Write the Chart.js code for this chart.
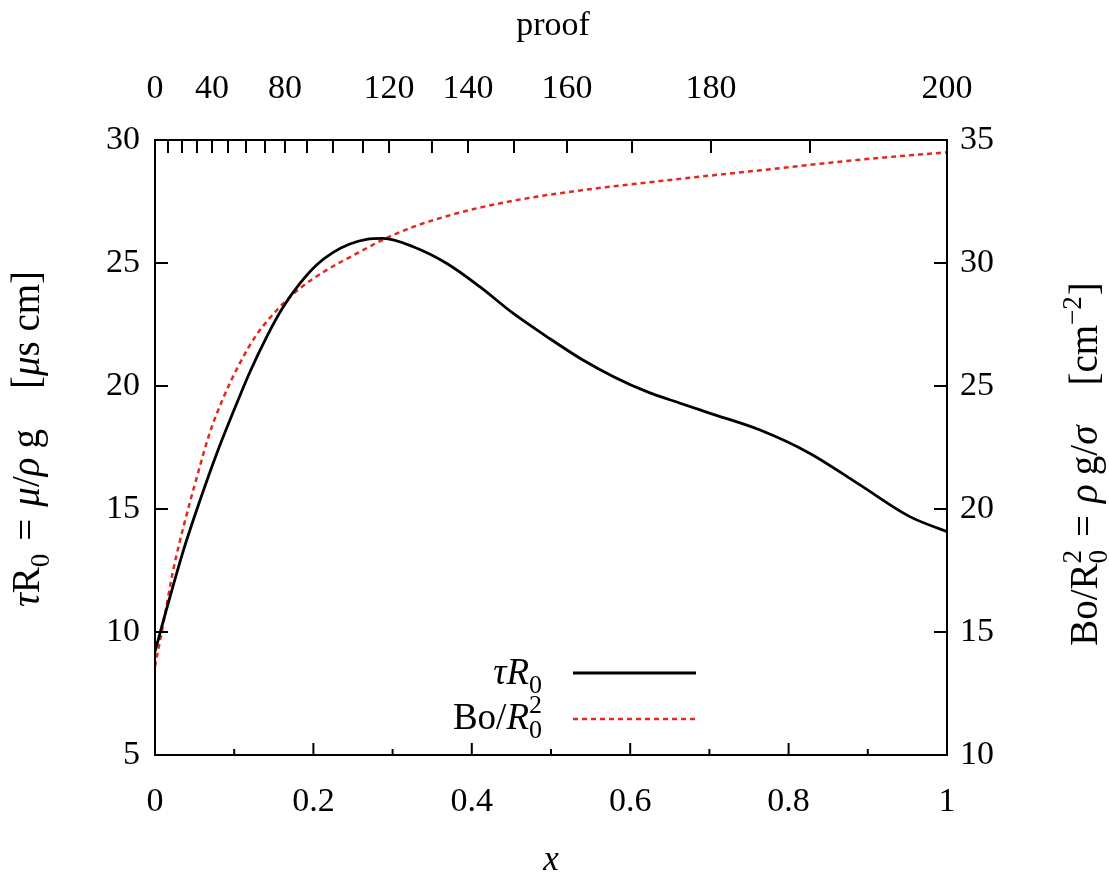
<!DOCTYPE html>
<html>
<head>
<meta charset="utf-8">
<script src="https://cdn.jsdelivr.net/npm/chart.js@4.4.1/dist/chart.umd.min.js"></script>
<style>
  html, body { margin: 0; padding: 0; background: #fff; }
  canvas { display: block; }
</style>
</head>
<body>
<canvas id="chart" width="1109" height="888"></canvas>
<script>
// tau*R0 curve (left axis)
const xTau = [0, 0.0105, 0.036, 0.057, 0.078, 0.099, 0.12, 0.141, 0.162, 0.183, 0.204, 0.225, 0.246, 0.267, 0.288,
  0.326, 0.368, 0.41, 0.452, 0.495, 0.537, 0.579, 0.621, 0.663, 0.701, 0.764, 0.827, 0.89, 0.953, 1.0];
const tauR0 = [9.2, 10.45, 13.33, 15.37, 17.26, 18.96, 20.58, 22.0, 23.22, 24.17, 24.92, 25.43, 25.77, 25.96, 26.0,
  25.66, 24.99, 24.04, 22.96, 22.0, 21.12, 20.38, 19.77, 19.3, 18.89, 18.21, 17.26, 15.98, 14.69, 14.08];

// Bo/R0^2 curve (right axis)
const xBo = [0, 0.0105, 0.023, 0.036, 0.053, 0.069, 0.086, 0.107, 0.128, 0.154, 0.183, 0.217, 0.255,
  0.288, 0.326, 0.368, 0.41, 0.452, 0.495, 0.537, 0.579, 0.621, 0.663, 0.70, 0.765, 0.83, 0.89, 0.95, 1.0];
const boR0 = [13.6, 15.35, 17.52, 19.28, 21.31, 23.08, 24.5, 25.92, 27.07, 28.09, 28.97, 29.72, 30.39,
  30.95, 31.47, 31.9, 32.25, 32.53, 32.76, 32.95, 33.12, 33.27, 33.42, 33.55, 33.77, 34.0, 34.2, 34.37, 34.5];

// top axis: proof values and where they sit on x
const proofTicks = [0, 10, 20, 30, 40, 50, 60, 70, 80, 90, 100, 110, 120, 130, 140, 150, 160, 170, 180, 190, 200];
const proofPos = [0, 0.0164, 0.0341, 0.053, 0.072, 0.0922, 0.1149, 0.1389, 0.1641, 0.1919, 0.2247,
  0.2626, 0.2955, 0.3497, 0.3952, 0.4533, 0.5202, 0.6023, 0.702, 0.827, 1.0];
const proofLabels = [0, 40, 80, 120, 140, 160, 180, 200];

const FONT = '"Liberation Serif", "DejaVu Serif", serif';
const FS = 34;   // tick labels
const TS = 37;   // legend
const YS = 39;   // rotated axis titles

function segFont(s, size) {
  return (s.i ? 'italic ' : '') + size + 'px ' + FONT;
}

function segWidth(ctx, s, size) {
  if (s.sp !== undefined) return s.sp;
  if (s.t !== undefined) { ctx.font = segFont(s, size); return ctx.measureText(s.t).width; }
  const small = Math.round(size * 0.7);
  ctx.font = small + 'px ' + FONT;
  const a = s.sub ? ctx.measureText(s.sub).width : 0;
  const b = s.sup ? ctx.measureText(s.sup).width : 0;
  return Math.max(a, b) + 1;
}

// draws text made of plain / italic / sub / sup parts
function drawRich(ctx, segs, x, y, size, align) {
  const total = segs.reduce((w, s) => w + segWidth(ctx, s, size), 0);
  let cx = align === 'center' ? x - total / 2 : align === 'right' ? x - total : x;
  ctx.textAlign = 'left';
  ctx.textBaseline = 'alphabetic';
  segs.forEach(s => {
    const w = segWidth(ctx, s, size);
    if (s.t !== undefined) {
      ctx.font = segFont(s, size);
      ctx.fillText(s.t, cx, y);
    } else if (s.sp === undefined) {
      ctx.font = Math.round(size * 0.7) + 'px ' + FONT;
      if (s.sub) ctx.fillText(s.sub, cx, y + size * 0.25);
      if (s.sup) ctx.fillText(s.sup, cx, y - size * 0.42);
    }
    cx += w;
  });
}

const leftTitle = [{t: 'τ', i: 1}, {t: 'R'}, {sub: '0'}, {sp: 12}, {t: '='}, {sp: 12}, {t: 'μ', i: 1}, {t: '/'},
  {t: 'ρ', i: 1}, {sp: 9}, {t: 'g'}, {sp: 40}, {t: '['}, {t: 'μ', i: 1}, {t: 's cm]'}];
const rightTitle = [{t: 'Bo/R'}, {sub: '0', sup: '2'}, {sp: 12}, {t: '='}, {sp: 12}, {t: 'ρ', i: 1}, {sp: 9},
  {t: 'g/'}, {t: 'σ', i: 1}, {sp: 40}, {t: '[cm'}, {sup: '−2'}, {t: ']'}];
const legendTau = [{t: 'τ', i: 1}, {t: 'R', i: 1}, {sub: '0'}];
const legendBo = [{t: 'Bo/'}, {t: 'R', i: 1}, {sub: '0', sup: '2'}];

const frame = {
  id: 'frame',
  afterDraw(chart) {
    const { ctx, chartArea: a, scales } = chart;
    ctx.save();
    ctx.strokeStyle = '#000';
    ctx.lineWidth = 2;
    ctx.strokeRect(a.left, a.top, a.right - a.left, a.bottom - a.top);

    // inward ticks on all four sides
    ctx.beginPath();
    scales.x.ticks.forEach(t => {
      const px = scales.x.getPixelForValue(t.value);
      const len = Math.round(t.value * 10) % 2 === 0 ? 12 : 6;
      ctx.moveTo(px, a.bottom); ctx.lineTo(px, a.bottom - len);
    });
    scales.top.ticks.forEach(t => {
      const px = scales.top.getPixelForValue(t.value);
      ctx.moveTo(px, a.top); ctx.lineTo(px, a.top + 13);
    });
    scales.y.ticks.forEach(t => {
      const py = scales.y.getPixelForValue(t.value);
      ctx.moveTo(a.left, py); ctx.lineTo(a.left + 13, py);
    });
    scales.y2.ticks.forEach(t => {
      const py = scales.y2.getPixelForValue(t.value);
      ctx.moveTo(a.right, py); ctx.lineTo(a.right - 13, py);
    });
    ctx.stroke();

    // axis titles
    ctx.fillStyle = '#000';
    drawRich(ctx, [{t: 'proof'}], 553, 35, 34, 'center');
    drawRich(ctx, [{t: 'x', i: 1}], 551, 870, 35, 'center');

    ctx.save();
    ctx.translate(39, 439);
    ctx.rotate(-Math.PI / 2);
    drawRich(ctx, leftTitle, 0, 0, YS, 'center');
    ctx.restore();

    ctx.save();
    ctx.translate(1097, 464);
    ctx.rotate(-Math.PI / 2);
    drawRich(ctx, rightTitle, 0, 0, YS, 'center');
    ctx.restore();

    // legend
    drawRich(ctx, legendTau, 543, 684, TS, 'right');
    drawRich(ctx, legendBo, 543, 729, TS, 'right');
    ctx.lineWidth = 2.8;
    ctx.beginPath();
    ctx.moveTo(573, 673); ctx.lineTo(696, 673);
    ctx.stroke();
    ctx.strokeStyle = '#e3281e';
    ctx.lineWidth = 2.5;
    ctx.setLineDash([5, 4]);
    ctx.beginPath();
    ctx.moveTo(573, 719); ctx.lineTo(696, 719);
    ctx.stroke();
    ctx.restore();
  }
};

const tickFont = { family: FONT, size: FS };

new Chart(document.getElementById('chart'), {
  type: 'line',
  data: {
    datasets: [
      {
        label: 'tauR0',
        data: xTau.map((x, i) => ({ x: x, y: tauR0[i] })),
        borderColor: '#000',
        borderWidth: 2.8,
        pointRadius: 0,
        cubicInterpolationMode: 'monotone',
        xAxisID: 'x',
        yAxisID: 'y'
      },
      {
        label: 'BoR0',
        data: xBo.map((x, i) => ({ x: x, y: boR0[i] })),
        borderColor: '#e3281e',
        borderWidth: 2.5,
        borderDash: [5, 4],
        pointRadius: 0,
        cubicInterpolationMode: 'monotone',
        xAxisID: 'x',
        yAxisID: 'y2'
      }
    ]
  },
  options: {
    responsive: false,
    animation: false,
    layout: { padding: 0 },
    plugins: { legend: { display: false }, tooltip: { enabled: false } },
    scales: {
      x: {
        type: 'linear', position: 'bottom', min: 0, max: 1,
        afterFit: s => { s.height = 133; },
        grid: { display: false, drawTicks: false },
        border: { display: false },
        ticks: {
          stepSize: 0.1, padding: 27, color: '#000', font: tickFont, maxRotation: 0, autoSkip: false,
          callback: v => { const k = Math.round(v * 10); return k % 2 === 0 ? String(k / 10) : ''; }
        }
      },
      top: {
        type: 'linear', position: 'top', min: 0, max: 1,
        afterFit: s => { s.height = 140; },
        afterBuildTicks: s => { s.ticks = proofPos.map(v => ({ value: v })); },
        grid: { display: false, drawTicks: false },
        border: { display: false },
        ticks: {
          padding: 31, color: '#000', font: tickFont, maxRotation: 0, autoSkip: false,
          callback: (v, i) => proofLabels.includes(proofTicks[i]) ? String(proofTicks[i]) : ''
        }
      },
      y: {
        type: 'linear', position: 'left', min: 5, max: 30,
        afterFit: s => { s.width = 155; },
        grid: { display: false, drawTicks: false },
        border: { display: false },
        ticks: { stepSize: 5, padding: 15, color: '#000', font: tickFont }
      },
      y2: {
        type: 'linear', position: 'right', min: 10, max: 35,
        afterFit: s => { s.width = 162; },
        grid: { display: false, drawTicks: false },
        border: { display: false },
        ticks: { stepSize: 5, padding: 13, color: '#000', font: tickFont }
      }
    }
  },
  plugins: [frame]
});
</script>
</body>
</html>
